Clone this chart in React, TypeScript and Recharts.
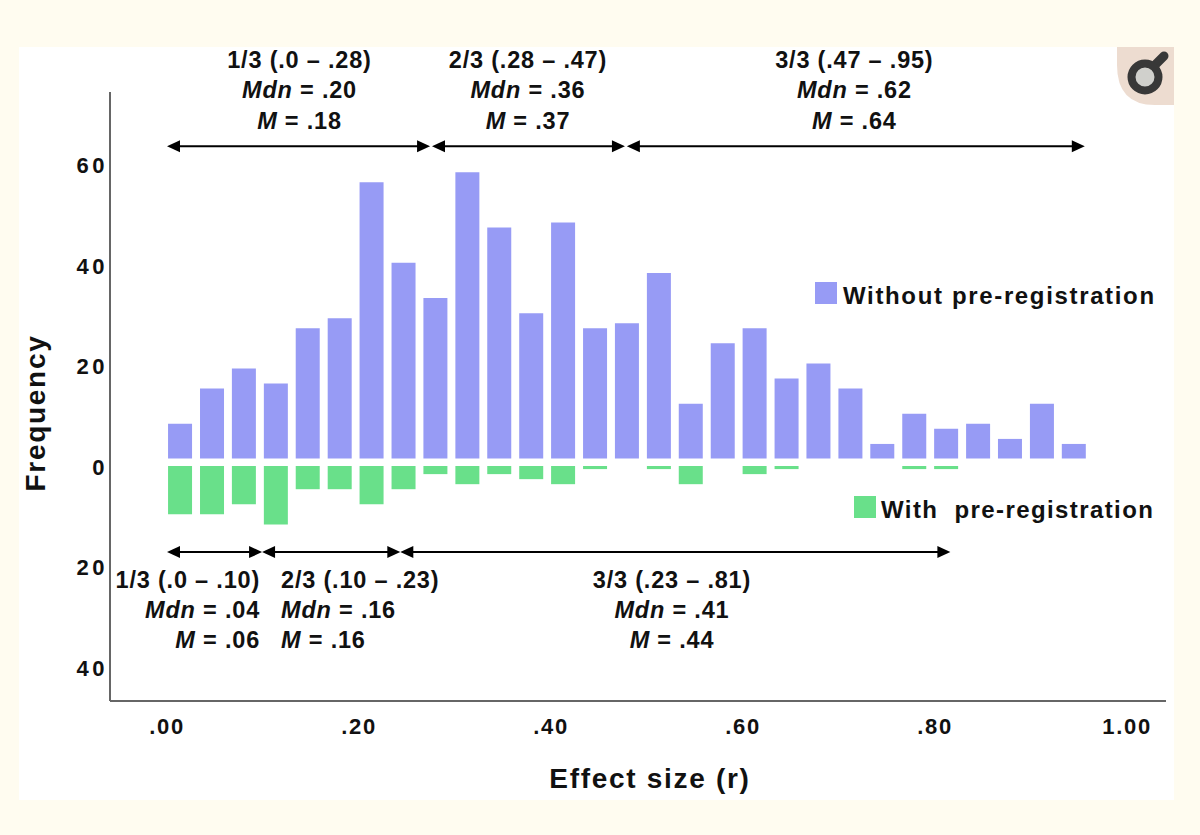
import { Bar, ComposedChart, ReferenceLine, XAxis, YAxis } from "recharts";

const binCenters = [
  0.0135, 0.0468, 0.08, 0.1133, 0.1465, 0.1798, 0.213, 0.2463, 0.2795, 0.3128,
  0.346, 0.3793, 0.4125, 0.4458, 0.479, 0.5123, 0.5455, 0.5788, 0.612, 0.6453,
  0.6785, 0.7118, 0.745, 0.7783, 0.8115, 0.8448, 0.878, 0.9113, 0.9445,
];
const withoutPrereg = [
  8, 15, 19, 16, 27, 29, 56, 40, 33, 58, 47, 30, 48, 27, 28, 38, 12, 24, 27, 17, 20, 15, 4, 10, 7, 8, 5, 12, 4,
];
const withPrereg = [
  10, 10, 8, 12, 5, 5, 8, 5, 2, 4, 2, 3, 4, 1, 0, 1, 4, 0, 2, 1, 0, 0, 0, 1, 1, 0, 0, 0, 0,
];
const xTicks = [0, 0.2, 0.4, 0.6, 0.8, 1];
const yTicks = [60, 40, 20, 0, -20, -40];

// third ranges above and below the bars
const topArrows = [
  { from: 0, to: 0.274, labelX: 0.138, anchor: "middle", range: "1/3 (.0 – .28)", mdn: ".20", m: ".18" },
  { from: 0.276, to: 0.477, labelX: 0.376, anchor: "middle", range: "2/3 (.28 – .47)", mdn: ".36", m: ".37" },
  { from: 0.479, to: 0.956, labelX: 0.716, anchor: "middle", range: "3/3 (.47 – .95)", mdn: ".62", m: ".64" },
];
const bottomArrows = [
  { from: 0, to: 0.099, labelX: 0.0969, anchor: "end", range: "1/3 (.0 – .10)", mdn: ".04", m: ".06" },
  { from: 0.099, to: 0.243, labelX: 0.1188, anchor: "start", range: "2/3 (.10 – .23)", mdn: ".16", m: ".16" },
  { from: 0.243, to: 0.816, labelX: 0.526, anchor: "middle", range: "3/3 (.23 – .81)", mdn: ".41", m: ".44" },
];

const data = binCenters.map((x, i) => ({
  x,
  without: withoutPrereg[i],
  with: -withPrereg[i],
}));

const FONT = "'Liberation Sans', Arial, sans-serif";
const BLUE = "#979bf5";
const GREEN = "#69e08a";

const labelStyle = {
  fontFamily: FONT,
  fontWeight: 700,
  fontSize: 23.5,
  fill: "#111",
  letterSpacing: 0.8,
} as const;

function ArrowLabel(props: any) {
  const { segment, labelX, anchor, range, mdn, m, lineYs } = props;
  const x1 = segment[0].x;
  const x2 = segment[1].x;
  const y = segment[0].y;
  const cx = labelX;
  return (
    <g>
      <line x1={x1 + 6} y1={y} x2={x2 - 6} y2={y} stroke="#000" strokeWidth={2} />
      <path d={`M${x1},${y} l13,-6 v12 z`} fill="#000" />
      <path d={`M${x2},${y} l-13,-6 v12 z`} fill="#000" />
      <text x={cx} y={y + lineYs[0]} textAnchor={anchor} style={labelStyle}>
        {range}
      </text>
      <text x={cx} y={y + lineYs[1]} textAnchor={anchor} style={labelStyle}>
        <tspan fontStyle="italic">Mdn</tspan> = {mdn}
      </text>
      <text x={cx} y={y + lineYs[2]} textAnchor={anchor} style={labelStyle}>
        <tspan fontStyle="italic">M</tspan> = {m}
      </text>
    </g>
  );
}

// plot runs 110..1166 px, so one x unit is 960 px
const toPx = (v: number) => 167 + v * 960;

function legendText(left: number, top: number, text: string, color: string, boxLeft: number, boxTop: number, spacing: number) {
  return (
    <>
      <div style={{ position: "absolute", left: boxLeft, top: boxTop, width: 22, height: 22, background: color }} />
      <div
        style={{
          position: "absolute",
          left,
          top,
          fontFamily: FONT,
          fontWeight: 700,
          fontSize: 24,
          lineHeight: "26px",
          letterSpacing: spacing,
          color: "#111",
          whiteSpace: "pre",
        }}
      >
        {text}
      </div>
    </>
  );
}

export default function App() {
  return (
    <div style={{ position: "absolute", left: 0, top: 0, width: 1200, height: 835, background: "#fffcf0", overflow: "hidden" }}>
      <div style={{ position: "absolute", left: 19, top: 47, width: 1155, height: 753, background: "#fff" }} />
      <div style={{ position: "absolute", left: 0, top: 0 }}>
        <ComposedChart
          width={1200}
          height={835}
          data={data}
          stackOffset="sign"
          margin={{ top: 92, right: 34, bottom: 74, left: 50 }}
        >
          <XAxis
            dataKey="x"
            type="number"
            domain={[-0.0594, 1.0406]}
            allowDataOverflow
            ticks={xTicks}
            interval={0}
            height={60}
            tickLine={false}
            tickMargin={11}
            tickFormatter={(v: number) => (v === 1 ? "1.00" : v.toFixed(2).slice(1))}
            axisLine={{ stroke: "#666", strokeWidth: 2 }}
            tick={{ fontFamily: FONT, fontWeight: 700, fontSize: 22, fill: "#111", letterSpacing: 1.7 }}
            label={{
              value: "Effect size (r)",
              position: "insideBottom",
              offset: -27,
              dx: 12,
              style: { fontFamily: FONT, fontWeight: 700, fontSize: 28, fill: "#111", letterSpacing: 1.7 },
            }}
          />
          <YAxis
            type="number"
            domain={[-47.1, 73.96]}
            allowDataOverflow
            ticks={yTicks}
            interval={0}
            width={60}
            tickLine={false}
            tickMargin={7}
            tickFormatter={(v: number) => String(Math.abs(v))}
            axisLine={{ stroke: "#666", strokeWidth: 2 }}
            tick={{ fontFamily: FONT, fontWeight: 700, fontSize: 22, fill: "#111", letterSpacing: 3.5, dy: 3, dx: 11 }}
          />
          <Bar dataKey="without" stackId="a" fill={BLUE} barSize={24} isAnimationActive={false} />
          <Bar dataKey="with" stackId="a" fill={GREEN} barSize={24} isAnimationActive={false} />
          <ReferenceLine
            segment={[{ x: -0.01, y: 0.35 }, { x: 0.97, y: 0.35 }]}
            stroke="#fff"
            strokeWidth={7.5}
          />
          {topArrows.map((a) => (
            <ReferenceLine
              key={a.range}
              segment={[{ x: a.from, y: 63.2 }, { x: a.to, y: 63.2 }]}
              shape={(p: any) => (
                <ArrowLabel
                  segment={[{ x: p.x1, y: p.y1 }, { x: p.x2, y: p.y2 }]}
                  labelX={toPx(a.labelX)}
                  anchor={a.anchor}
                  range={a.range}
                  mdn={a.mdn}
                  m={a.m}
                  lineYs={[-78, -48, -17]}
                />
              )}
            />
          ))}
          {bottomArrows.map((a) => (
            <ReferenceLine
              key={a.range}
              segment={[{ x: a.from, y: -17.5 }, { x: a.to, y: -17.5 }]}
              shape={(p: any) => (
                <ArrowLabel
                  segment={[{ x: p.x1, y: p.y1 }, { x: p.x2, y: p.y2 }]}
                  labelX={toPx(a.labelX)}
                  anchor={a.anchor}
                  range={a.range}
                  mdn={a.mdn}
                  m={a.m}
                  lineYs={[36, 66, 96]}
                />
              )}
            />
          ))}
        </ComposedChart>
      </div>
      <div
        style={{
          position: "absolute",
          left: 36,
          top: 413,
          transform: "translate(-50%, -50%) rotate(-90deg)",
          fontFamily: FONT,
          fontWeight: 700,
          fontSize: 28,
          color: "#111",
          letterSpacing: 1.7,
          whiteSpace: "nowrap",
        }}
      >
        Frequency
      </div>
      {legendText(843, 283, "Without pre-registration", BLUE, 815, 282, 1.65)}
      {legendText(881, 497, "With  pre-registration", GREEN, 854, 496, 1.4)}
      <svg style={{ position: "absolute", left: 1117, top: 47 }} width={57} height={58}>
        <path d="M0,0 H57 V58 H38 Q0,58 0,18 Z" fill="#eddcd0" />
        <line x1={36} y1={20} x2={47} y2={9} stroke="#383838" strokeWidth={9} strokeLinecap="round" />
        <circle cx={28} cy={30} r={13.5} fill="#d0d0cc" stroke="#383838" strokeWidth={8} />
      </svg>
    </div>
  );
}
